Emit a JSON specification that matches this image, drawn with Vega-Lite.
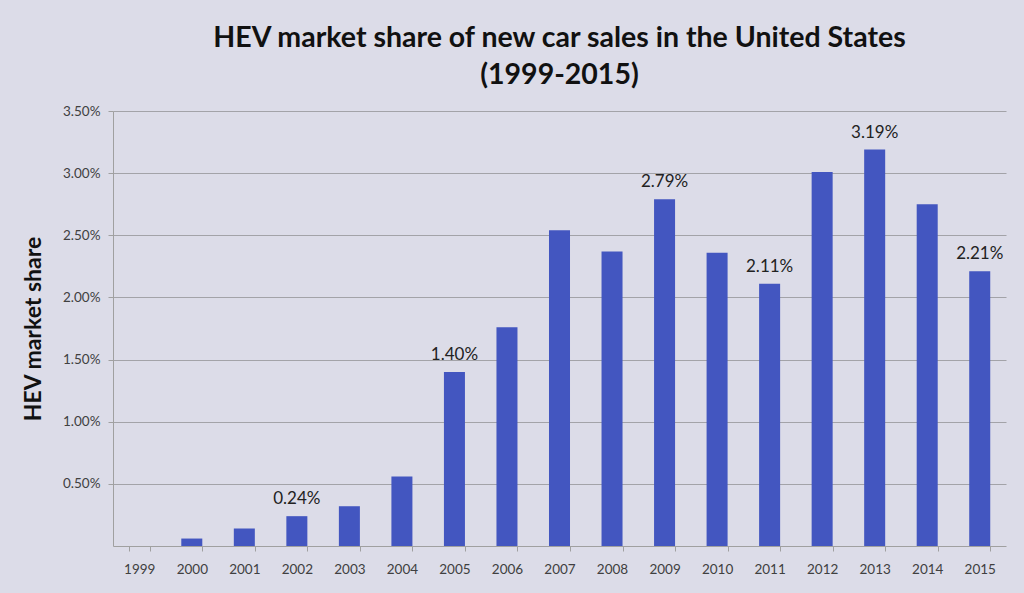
{
  "$schema": "https://vega.github.io/schema/vega-lite/v6.json",
  "description": "HEV market share of new car sales in the United States, 1999-2015.",
  "autosize": "none",
  "width": 893,
  "height": 435,
  "padding": {"left": 113, "top": 111, "right": 18, "bottom": 47},
  "background": "#dcdce8",
  "config": {
    "view": {"stroke": null},
    "font": "Lato"
  },
  "title": {
    "text": ["HEV market share of new car sales in the United States", "(1999-2015)"],
    "fontSize": 28.5,
    "fontWeight": "bold",
    "color": "#111111",
    "lineHeight": 37,
    "offset": 15,
    "anchor": "middle"
  },
  "data": {
    "values": [
      {"year": "1999", "share": 0, "labeled": false},
      {"year": "2000", "share": 0.0006, "labeled": false},
      {"year": "2001", "share": 0.0014, "labeled": false},
      {"year": "2002", "share": 0.0024, "labeled": true},
      {"year": "2003", "share": 0.0032, "labeled": false},
      {"year": "2004", "share": 0.0056, "labeled": false},
      {"year": "2005", "share": 0.0140, "labeled": true},
      {"year": "2006", "share": 0.0176, "labeled": false},
      {"year": "2007", "share": 0.0254, "labeled": false},
      {"year": "2008", "share": 0.0237, "labeled": false},
      {"year": "2009", "share": 0.0279, "labeled": true},
      {"year": "2010", "share": 0.0236, "labeled": false},
      {"year": "2011", "share": 0.0211, "labeled": true},
      {"year": "2012", "share": 0.0301, "labeled": false},
      {"year": "2013", "share": 0.0319, "labeled": true},
      {"year": "2014", "share": 0.0275, "labeled": false},
      {"year": "2015", "share": 0.0221, "labeled": true}
    ]
  },
  "encoding": {
    "x": {
      "field": "year",
      "type": "ordinal",
      "title": null,
      "scale": {"paddingInner": 0.6, "paddingOuter": 0.3},
      "axis": {
        "labelAngle": 0,
        "labelFontSize": 13.5,
        "labelColor": "#404040",
        "labelPadding": 11,
        "tickBand": "extent",
        "tickSize": 5,
        "tickColor": "#a0a0a0",
        "domainColor": "#a0a0a0",
        "grid": false
      }
    },
    "y": {
      "field": "share",
      "type": "quantitative",
      "title": "HEV market share",
      "scale": {"domain": [0, 0.035], "nice": false},
      "axis": {
        "format": ".2%",
        "values": [0.005, 0.01, 0.015, 0.02, 0.025, 0.03, 0.035],
        "labelFontSize": 13.5,
        "labelColor": "#404040",
        "labelPadding": 8,
        "tickSize": 5,
        "tickColor": "#a0a0a0",
        "domainColor": "#a0a0a0",
        "gridColor": "#a3a3a8",
        "titleFontSize": 23,
        "titleFontWeight": "bold",
        "titleColor": "#111111",
        "titlePadding": 17
      }
    }
  },
  "layer": [
    {
      "mark": {"type": "bar", "color": "#4356c0"}
    },
    {
      "transform": [{"filter": "datum.labeled"}],
      "mark": {
        "type": "text",
        "baseline": "bottom",
        "dy": -8,
        "fontSize": 17,
        "color": "#222222"
      },
      "encoding": {
        "text": {"field": "share", "type": "quantitative", "format": ".2%"}
      }
    }
  ]
}
